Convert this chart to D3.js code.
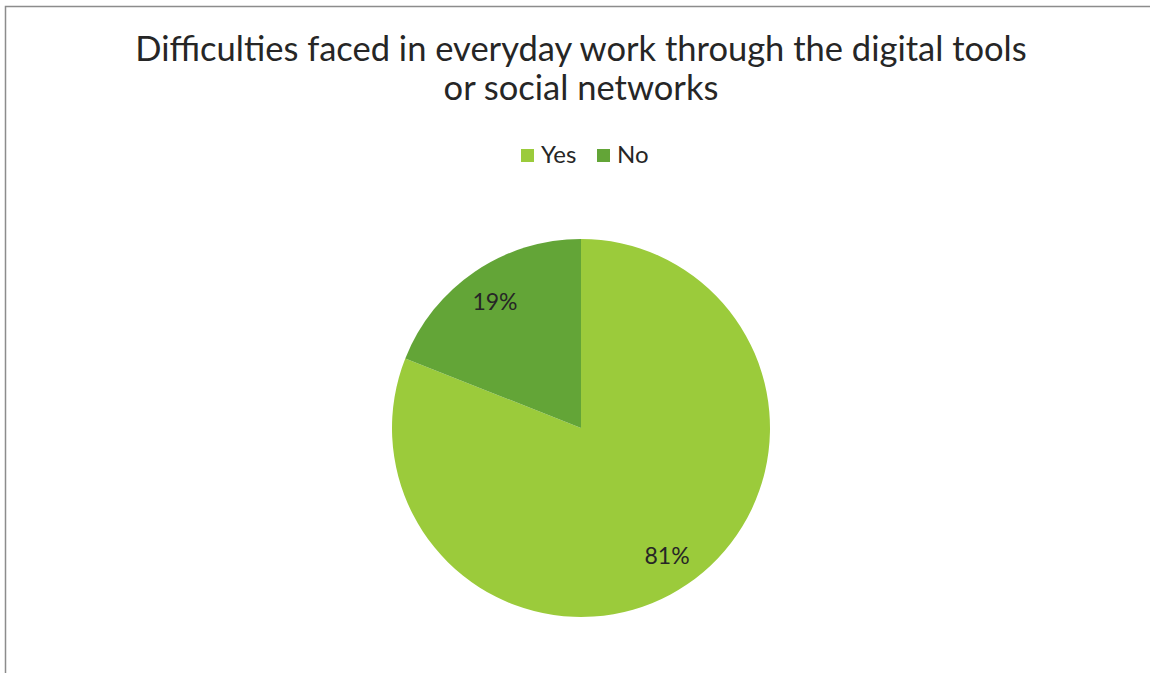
<!DOCTYPE html>
<html>
<head>
<meta charset="utf-8">
<script src="https://cdn.jsdelivr.net/npm/d3@7"></script>
<style>
  html, body { margin: 0; padding: 0; background: #fff; }
  svg { display: block; }
  text { font-family: Lato, "Open Sans", sans-serif; fill: #262626; }
</style>
</head>
<body>
<svg id="chart" width="1150" height="673"></svg>
<script>
// Survey answers
const categories = ["Yes", "No"];
const values = [81, 19];
const colors = ["#9BCB3B", "#63A537"];
const titleLines = [
  "Difficulties faced in everyday work through the digital tools",
  "or social networks"
];

const W = 1150, H = 673;
const svg = d3.select("#chart");

// Chart frame
svg.append("rect")
  .attr("x", 5.5).attr("y", 6.5)
  .attr("width", W + 10).attr("height", H + 10)
  .attr("fill", "#fff")
  .attr("stroke", "#8c8c8c")
  .attr("stroke-width", 1.5);

// Title
const title = svg.append("text")
  .attr("text-anchor", "middle")
  .attr("font-size", 34.5);
titleLines.forEach((line, i) => {
  title.append("tspan")
    .attr("x", 581)
    .attr("y", 61 + i * 39)
    .text(line);
});

// Legend
const color = d3.scaleOrdinal().domain(categories).range(colors);
const legendX = [521, 597];
const legend = svg.append("g");
categories.forEach((c, i) => {
  const g = legend.append("g").attr("transform", `translate(${legendX[i]},0)`);
  g.append("rect")
    .attr("x", 0).attr("y", 149)
    .attr("width", 13).attr("height", 13)
    .attr("fill", color(c));
  g.append("text")
    .attr("x", 20).attr("y", 163)
    .attr("font-size", 24)
    .text(c);
});

// Pie
const cx = 581, cy = 428, r = 189;
const pie = d3.pie().sort(null).value(d => d.value);
const arcs = pie(categories.map((c, i) => ({ cat: c, value: values[i] })));
const arc = d3.arc().innerRadius(0).outerRadius(r);
const labelArc = d3.arc().innerRadius(r * 0.81).outerRadius(r * 0.81);
const total = d3.sum(values);

const g = svg.append("g").attr("transform", `translate(${cx},${cy})`);
g.selectAll("path")
  .data(arcs)
  .join("path")
  .attr("d", arc)
  .attr("fill", d => color(d.data.cat));

g.selectAll("text.lbl")
  .data(arcs)
  .join("text")
  .attr("class", "lbl")
  .attr("text-anchor", "middle")
  .attr("dominant-baseline", "central")
  .attr("font-size", 23)
  .attr("transform", d => `translate(${labelArc.centroid(d)})`)
  .text(d => Math.round(d.data.value / total * 100) + "%");
</script>
</body>
</html>
